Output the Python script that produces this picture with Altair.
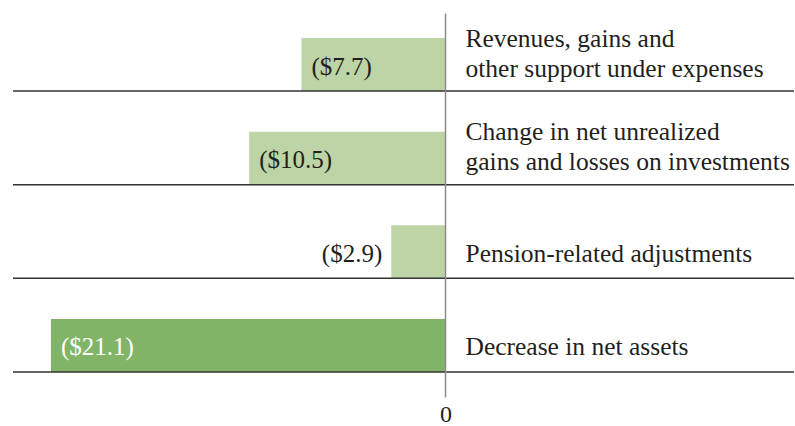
import altair as alt
import pandas as pd

categories = [
    "Revenues, gains and\nother support under expenses",
    "Change in net unrealized\ngains and losses on investments",
    "Pension-related adjustments",
    "Decrease in net assets",
]
values = [-7.7, -10.5, -2.9, -21.1]
kinds = ["component", "component", "component", "total"]

df = pd.DataFrame({"category": categories, "value": values, "kind": kinds})

FONT = "Liberation Serif"
TXT = "#231f20"

ysc = alt.Scale(paddingInner=0.434, paddingOuter=0.267, align=0.5)
xsc = alt.Scale(domain=[-23.13, 18.64], nice=False, zero=False)


def yenc(**kw):
    return alt.Y("category:N", sort=categories, scale=ysc, axis=None, **kw)


base = alt.Chart(df).transform_calculate(
    lbl="'($' + format(-datum.value, '.1f') + ')'",
    multi="indexof(datum.category, '\\n') >= 0",
)

bars = base.mark_bar().encode(
    x=alt.X(
        "value:Q",
        scale=xsc,
        axis=alt.Axis(
            values=[0], grid=True, gridColor="#8a8a8a", gridWidth=1.5,
            ticks=False, domain=False, labelFont=FONT, labelFontSize=24,
            labelColor=TXT, labelPadding=5, title=None, zindex=1,
        ),
    ),
    x2=alt.datum(0),
    y=yenc(),
    color=alt.Color(
        "kind:N",
        scale=alt.Scale(domain=["component", "total"], range=["#bdd4a7", "#81b466"]),
        legend=None,
    ),
)

seps = base.mark_rule(color="#333333", strokeWidth=1.5).encode(
    y=yenc(bandPosition=1)
)

inside = base.transform_filter("abs(datum.value) >= 5").mark_text(
    align="left", baseline="middle", dx=10, dy=2, font=FONT, fontSize=25
).encode(
    x=alt.X("value:Q", scale=xsc),
    y=yenc(),
    text="lbl:N",
    color=alt.condition(alt.datum.kind == "total", alt.value("white"), alt.value(TXT)),
)

outside = base.transform_filter("abs(datum.value) < 5").mark_text(
    align="right", baseline="middle", dx=-9, dy=2, font=FONT, fontSize=25, color=TXT
).encode(
    x=alt.X("value:Q", scale=xsc),
    y=yenc(),
    text="lbl:N",
)

cat_single = base.transform_filter("!datum.multi").mark_text(
    align="left", baseline="middle", dx=20, dy=2, font=FONT, fontSize=25.5, color=TXT
).encode(x=alt.datum(0), y=yenc(), text="category:N")

cat_multi = base.transform_filter("datum.multi").mark_text(
    align="left", baseline="middle", dx=20, dy=-26, font=FONT, fontSize=25.5,
    color=TXT, lineBreak="\n", lineHeight=30,
).encode(x=alt.datum(0), y=yenc(), text="category:N")

chart = alt.layer(bars, seps, inside, outside, cat_single, cat_multi).properties(
    width=781,
    height=384,
    padding={"left": 13, "top": 13, "right": 1, "bottom": 29},
    autosize=alt.AutoSizeParams(type="none"),
    background="white",
).configure_view(stroke=None)

chart.save("out.html", embed_options={"renderer": "svg", "actions": False})
